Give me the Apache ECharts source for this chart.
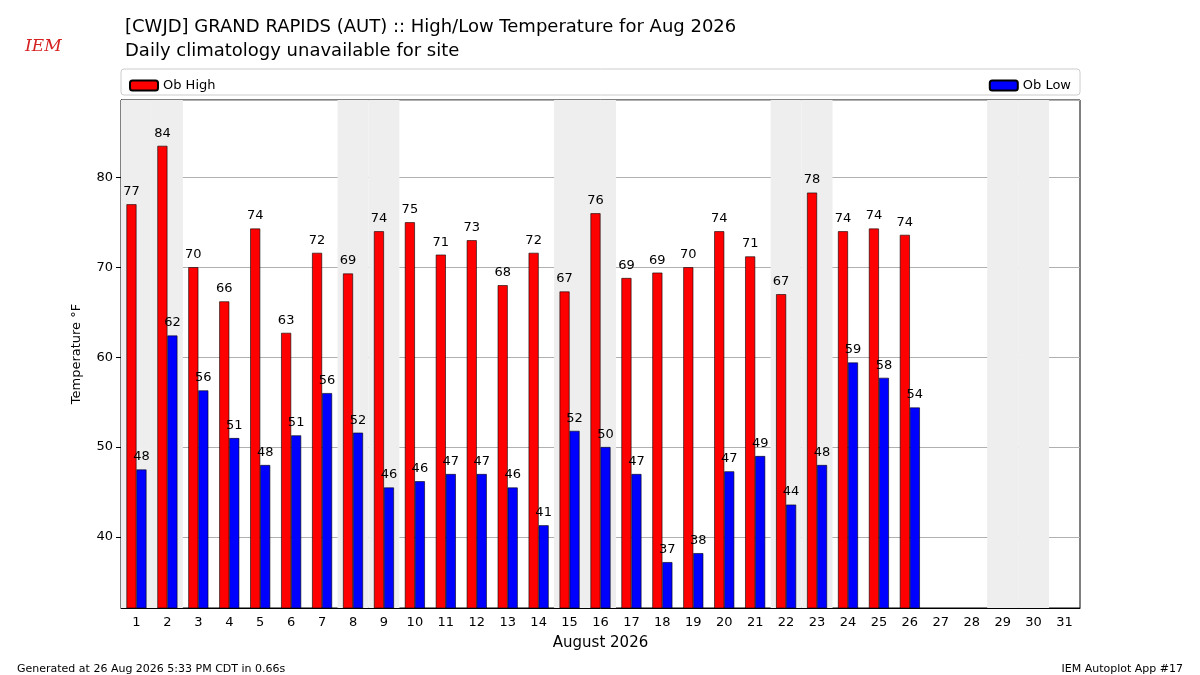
<!DOCTYPE html>
<html><head><meta charset="utf-8">
<script src="https://cdn.jsdelivr.net/npm/echarts@6/dist/echarts.min.js"></script>
<style>html,body{margin:0;padding:0;background:#fff}#c{width:1200px;height:675px}</style>
</head><body><div id="c"></div>
<script>
const days = Array.from({length:31},(_,i)=>String(i+1));
const obHigh = [77,83.5,70,66.2,74.3,62.7,71.6,69.3,74,75,71.4,73,68,71.6,67.3,76,68.8,69.4,70,74,71.2,67,78.3,74,74.3,73.6];
const obLow = [47.5,62.4,56.3,51,48,51.3,56,51.6,45.5,46.2,47,47,45.5,41.3,51.8,50,47,37.2,38.2,47.3,49,43.6,48,59.4,57.7,54.4];
const weekendDays = [1,2,8,9,15,16,22,23,29,30];
const yMin = 32.1, yMax = 88.6;
const shade = days.map(d => weekendDays.includes(+d) ? yMax : '-');
const font = 'DejaVu Sans';
const chart = echarts.init(document.getElementById('c'));
chart.setOption({
  animation:false,
  textStyle:{fontFamily:font},
  title:[
    {text:'[CWJD] GRAND RAPIDS (AUT) :: High/Low Temperature for Aug 2026', left:120, top:13, textStyle:{fontFamily:font,fontSize:18,fontWeight:'normal',color:'#000'}},
    {text:'Daily climatology unavailable for site', left:120, top:37, textStyle:{fontFamily:font,fontSize:18,fontWeight:'normal',color:'#000'}},
    {text:'Generated at 26 Aug 2026 5:33 PM CDT in 0.66s', left:12, top:659, textStyle:{fontFamily:font,fontSize:11,fontWeight:'normal',color:'#000'}},
    {text:'IEM Autoplot App #17', right:12, top:659, textStyle:{fontFamily:font,fontSize:11,fontWeight:'normal',color:'#000'}},
    {text:'IEM', left:20, top:33, textStyle:{fontFamily:'DejaVu Serif',fontSize:17,fontStyle:'italic',fontWeight:'normal',color:'#d62020'}}
  ],
  graphic:[{type:'rect',shape:{x:121,y:69,width:959,height:26,r:3},style:{fill:'#fff',stroke:'#ccc',lineWidth:1},z:-1}],
  legend:[
    {data:['Ob High'],left:124,top:74,itemWidth:28,itemHeight:10,itemGap:10,textStyle:{fontFamily:font,fontSize:13,color:'#000'}},
    {data:['Ob Low'],right:124,top:74,itemWidth:28,itemHeight:10,textStyle:{fontFamily:font,fontSize:13,color:'#000'}}
  ],
  grid:{left:121,right:120,top:100,bottom:67,show:true,borderColor:'#000',borderWidth:1},
  xAxis:[
    {type:'category',data:days,name:'August 2026',nameLocation:'middle',nameGap:28,nameTextStyle:{fontFamily:font,fontSize:15,color:'#000'},
     axisLine:{lineStyle:{color:'#000'}},axisTick:{alignWithLabel:true,lineStyle:{color:'#000'}},axisLabel:{color:'#000',fontSize:13,fontFamily:font}},
    {type:'category',data:days,show:false}
  ],
  yAxis:{type:'value',min:yMin,max:yMax,name:'Temperature °F',nameLocation:'middle',nameGap:38,nameTextStyle:{fontFamily:font,fontSize:13,color:'#000'},
    axisLine:{show:true,lineStyle:{color:'#000'}},axisTick:{show:true,lineStyle:{color:'#000'}},
    axisLabel:{color:'#000',fontSize:13,fontFamily:font,showMinLabel:false,showMaxLabel:false},
    splitLine:{lineStyle:{color:'#b0b0b0'}}},
  series:[
    {type:'bar',xAxisIndex:1,data:shade,barWidth:'100%',itemStyle:{color:'#eeeeee'},silent:true,z:0},
    {name:'Ob High',type:'bar',data:obHigh,barWidth:10,barGap:'0%',itemStyle:{color:'#ff0000',borderColor:'#000',borderWidth:0.6},
     label:{show:true,position:'top',distance:6,color:'#000',fontSize:13,fontFamily:font,formatter:p=>Math.round(p.value)},z:3},
    {name:'Ob Low',type:'bar',data:obLow,barWidth:10,itemStyle:{color:'#0000ff',borderColor:'#000',borderWidth:0.6},
     label:{show:true,position:'top',distance:6,color:'#000',fontSize:13,fontFamily:font,formatter:p=>Math.round(p.value)},z:3}
  ]
});
</script></body></html>
